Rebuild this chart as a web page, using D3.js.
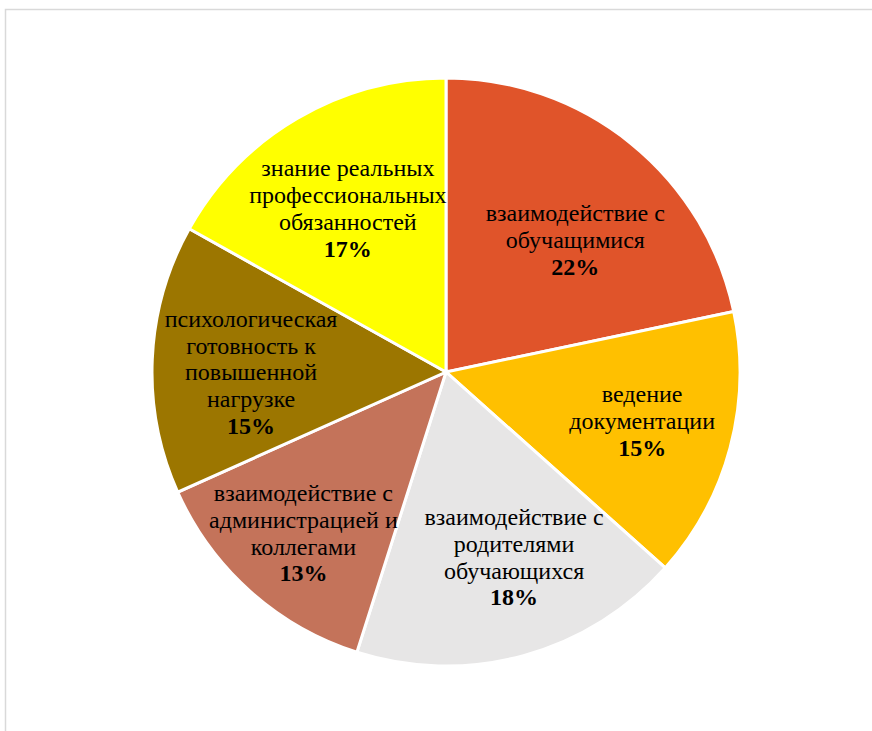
<!DOCTYPE html>
<html>
<head>
<meta charset="utf-8">
<script src="https://cdn.jsdelivr.net/npm/d3@7"></script>
<style>
body{margin:0;background:#fff;}
svg{display:block;}
text{font-family:"Liberation Serif","Times New Roman","DejaVu Serif",serif;}
</style>
</head>
<body>
<svg id="board" width="872" height="731"></svg>
<script>
// data (shares, labels shown rounded)
categories = [
    ["взаимодействие с", "обучащимися"],
    ["ведение", "документации"],
    ["взаимодействие с", "родителями", "обучающихся"],
    ["взаимодействие с", "администрацией и", "коллегами"],
    ["психологическая", "готовность к", "повышенной", "нагрузке"],
    ["знание реальных", "профессиональных", "обязанностей"]
];
values = [21.7, 14.9, 18.3, 13.4, 14.8, 16.9];
colors = ["#E0542A", "#FFC000", "#E7E6E6", "#C4735A", "#9C7600", "#FFFF00"];

// label placement: distance from centre and angle nudge (degrees), layout only
label_r = [185, 202, 197, 215, 195, 191];
label_da = [5.3, -1.1, -4.9, -0.2, -2.5, -0.5];

board = d3.select('#board');

board.append('rect')
    .attr('x', 5.5).attr('y', 9.5)
    .attr('width', 900).attr('height', 800)
    .attr('fill', 'none')
    .attr('stroke', '#d9d9d9')
    .attr('stroke-width', 1.5);

cx = 446;
cy = 372;
r = 294;

pie = d3.pie().sort(null).value(d => d);
arcs = pie(values);

arc = d3.arc().innerRadius(0).outerRadius(r);

g = board.append('g').attr('transform', `translate(${cx},${cy})`);

g.selectAll('path')
    .data(arcs)
    .enter()
    .append('path')
    .attr('d', arc)
    .attr('fill', (d, i) => colors[i])
    .attr('stroke', 'white')
    .attr('stroke-width', 3);

lh = 26.8;
arcs.forEach(function(d, i){
    mid = (d.startAngle + d.endAngle) / 2 + label_da[i] * Math.PI / 180;
    x = label_r[i] * Math.sin(mid);
    y = -label_r[i] * Math.cos(mid);
    lines = categories[i].concat([Math.round(values[i]) + '%']);
    top_y = y - (lines.length - 1) * lh / 2;
    t = g.append('text')
        .attr('text-anchor', 'middle')
        .attr('font-size', '24px')
        .attr('fill', 'black');
    lines.forEach(function(line, k){
        t.append('tspan')
            .attr('x', x)
            .attr('y', top_y + k * lh)
            .attr('dy', '0.35em')
            .attr('font-weight', k === lines.length - 1 ? 'bold' : 'normal')
            .text(line);
    });
});
</script>
</body>
</html>
